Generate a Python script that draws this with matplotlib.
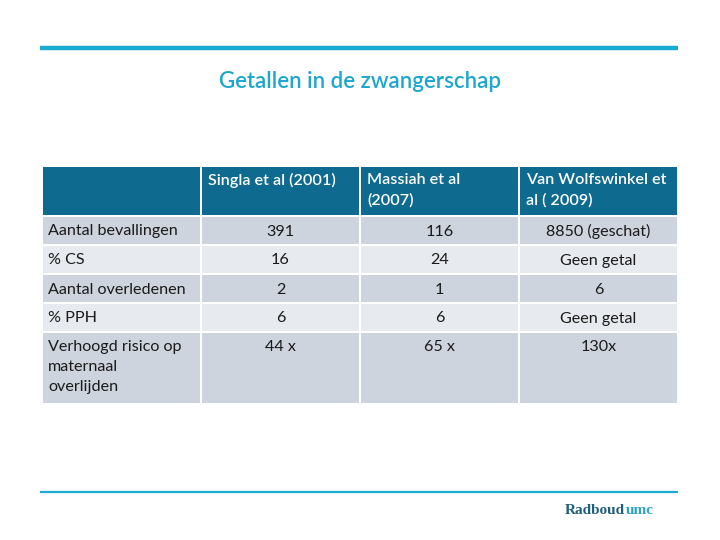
import matplotlib
matplotlib.use("Agg")
import matplotlib.pyplot as plt
from matplotlib.patches import Rectangle

title = "Getallen in de zwangerschap"
col_headers = ["", "Singla et al (2001)", "Massiah et al\n(2007)", "Van Wolfswinkel et\nal ( 2009)"]
row_labels = ["Aantal bevallingen", "% CS", "Aantal overledenen", "% PPH",
              "Verhoogd risico op\nmaternaal\noverlijden"]
singla = ["391", "16", "2", "6", "44 x"]
massiah = ["116", "24", "1", "6", "65 x"]
wolfswinkel = ["8850 (geschat)", "Geen getal", "6", "Geen getal", "130x"]

FONT = "Lato"
TEAL = "#1AABD2"
HEADER = "#0E6A8E"
ROW_DARK = "#CDD4DD"
ROW_LIGHT = "#E7EAEE"
TXT = "#1a1a1a"
FS = 11.6

fig = plt.figure(figsize=(7.2, 5.4), dpi=100)
ax = fig.add_axes([0, 0, 1, 1])
ax.set_xlim(0, 720)
ax.set_ylim(540, 0)
ax.axis("off")

# decorative lines
ax.plot([40, 678], [48, 48], color=TEAL, lw=3.2, solid_capstyle="butt")
ax.plot([40, 678], [492, 492], color=TEAL, lw=1.6, solid_capstyle="butt")
ax.text(360, 81, title, ha="center", va="center", color="#1EA7CD",
        fontsize=16, family=FONT, fontweight="semibold")

# table geometry
col_edges = [42, 201, 360, 519, 678]
row_edges = [167, 216, 245, 274, 303, 332, 404]
gap = 1.0

columns = [row_labels, singla, massiah, wolfswinkel]
n_rows = len(row_labels)

# header
for c in range(4):
    x0, x1 = col_edges[c] + gap, col_edges[c + 1] - gap
    y0, y1 = row_edges[0], row_edges[1] - gap
    ax.add_patch(Rectangle((x0, y0), x1 - x0, y1 - y0, color=HEADER, lw=0))
    if col_headers[c]:
        ax.text(x0 + 6, y0 + 6, col_headers[c], ha="left", va="top", color="white",
                fontsize=FS, family=FONT, fontweight="semibold", linespacing=1.55)

# body
for r in range(n_rows):
    y0, y1 = row_edges[r + 1] + gap, row_edges[r + 2] - gap
    fc = ROW_DARK if r % 2 == 0 else ROW_LIGHT
    last = (r == n_rows - 1)
    for c in range(4):
        x0, x1 = col_edges[c] + gap, col_edges[c + 1] - gap
        ax.add_patch(Rectangle((x0, y0), x1 - x0, y1 - y0, color=fc, lw=0))
        txt = columns[c][r]
        if c == 0:
            if last:
                ax.text(x0 + 5, y0 + 7, txt, ha="left", va="top", color=TXT,
                        fontsize=FS, family=FONT, linespacing=1.55)
            else:
                ax.text(x0 + 5, (y0 + y1) / 2 + 1, txt, ha="left", va="center", color=TXT,
                        fontsize=FS, family=FONT)
        else:
            if last:
                ax.text((x0 + x1) / 2, y0 + 7, txt, ha="center", va="top", color=TXT,
                        fontsize=FS, family=FONT)
            else:
                ax.text((x0 + x1) / 2, (y0 + y1) / 2 + 1, txt, ha="center", va="center",
                        color=TXT, fontsize=FS, family=FONT)

# logo
ax.text(625, 511, "Radboud", ha="right", va="center", color="#1F5F7A",
        fontsize=11, family="Liberation Serif", fontweight="bold")
ax.text(625.5, 511, "umc", ha="left", va="center", color="#2BA3C4",
        fontsize=11, family="Liberation Serif", fontweight="bold")

fig.savefig("out.png", dpi=100, facecolor="white")
